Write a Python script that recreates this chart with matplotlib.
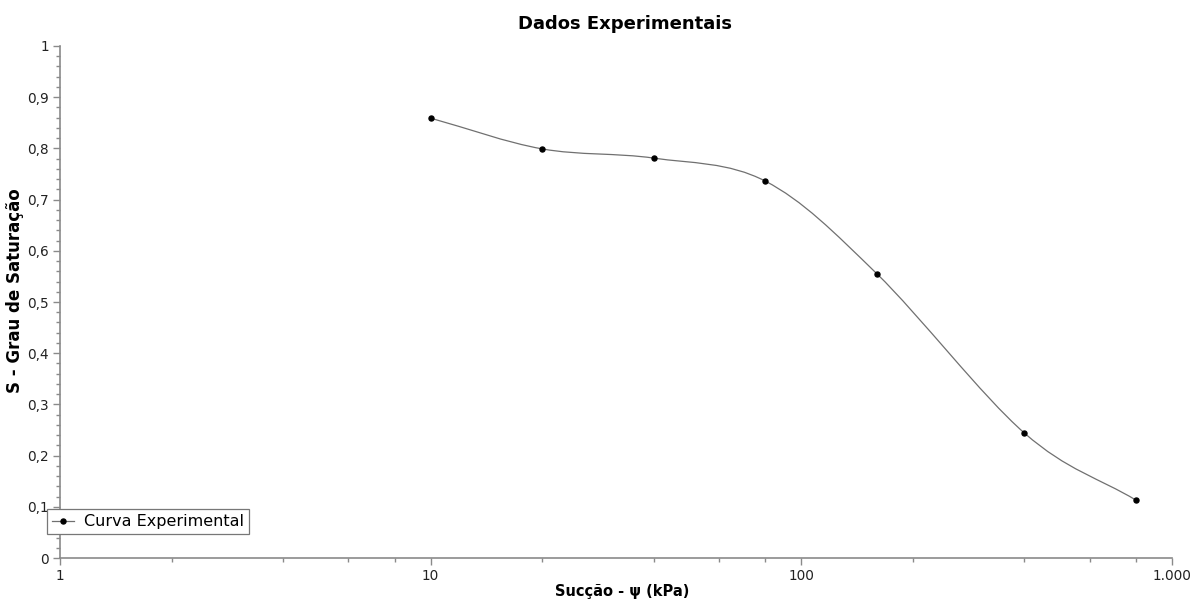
import numpy as np
import matplotlib.pyplot as plt
from matplotlib.path import Path
from matplotlib.patches import PathPatch
from matplotlib.ticker import FixedLocator, FuncFormatter, MultipleLocator
from matplotlib.lines import Line2D

# Curva experimental: sucção (kPa) x grau de saturação
succao = [10, 20, 40, 80, 160, 400, 800]
saturacao = [0.859, 0.799, 0.781, 0.736, 0.555, 0.244, 0.113]

cor_linha = '#707070'
cor_eixo = '#8a8a8a'

fig = plt.figure(figsize=(11.91, 6.01), dpi=100)
ax = fig.add_axes([0.0504, 0.0715, 0.9336, 0.852])
ax.set_xscale('log')
ax.set_xlim(1, 1000)
ax.set_ylim(0, 1)

# curva suave (Catmull-Rom em log10) desenhada como bezier
lx = np.log10(succao)
ys = np.array(saturacao)
pts = np.column_stack([lx, ys])
ext = np.vstack([2 * pts[0] - pts[1], pts, 2 * pts[-1] - pts[-2]])
verts = [pts[0]]
codes = [Path.MOVETO]
for i in range(1, len(ext) - 2):
    p0, p1, p2, p3 = ext[i - 1], ext[i], ext[i + 1], ext[i + 2]
    c1 = p1 + (p2 - p0) / 6
    c2 = p2 - (p3 - p1) / 6
    verts += [c1, c2, p2]
    codes += [Path.CURVE4] * 3
verts = np.array(verts)
verts[:, 0] = 10 ** verts[:, 0]
curva = PathPatch(Path(verts, codes), fill=False, edgecolor=cor_linha, linewidth=0.9)
ax.add_patch(curva)
ax.plot(succao, saturacao, linestyle='none', marker='o', markersize=3.6, color='black')

# eixos
for lado in ['top', 'right']:
    ax.spines[lado].set_visible(False)
for lado in ['left', 'bottom']:
    ax.spines[lado].set_color(cor_eixo)
    ax.spines[lado].set_linewidth(1.2)

ax.xaxis.set_major_locator(FixedLocator([1, 10, 100, 1000]))
ax.xaxis.set_minor_locator(FixedLocator([d * m for d in [1, 10, 100] for m in [2, 4, 6, 8]]))
ax.xaxis.set_major_formatter(FuncFormatter(lambda v, p: f'{int(round(v)):,}'.replace(',', '.')))
ax.xaxis.set_minor_formatter(FuncFormatter(lambda v, p: ''))
ax.yaxis.set_major_locator(MultipleLocator(0.1))
ax.yaxis.set_minor_locator(MultipleLocator(0.02))
ax.yaxis.set_major_formatter(FuncFormatter(lambda v, p: ('%g' % round(v, 1)).replace('.', ',')))

ax.tick_params(which='both', direction='out', color=cor_eixo, labelsize=9.8,
               labelcolor='#222222', pad=3)
ax.tick_params(which='major', length=5, width=1)
ax.tick_params(which='minor', length=3, width=1)

ax.set_title('Dados Experimentais', fontsize=13, fontweight='bold', x=0.508, pad=12)
ax.set_xlabel('Sucção - ψ (kPa)', fontsize=10.5, fontweight='bold')
ax.xaxis.set_label_coords(0.506, -0.05)
ax.set_ylabel('S - Grau de Saturação', fontsize=12, fontweight='bold')
ax.yaxis.set_label_coords(-0.032, 0.523)

# legenda
item = Line2D([], [], color=cor_linha, linewidth=0.9, marker='o', markersize=3.6,
              markerfacecolor='black', markeredgecolor='black')
leg = ax.legend([item], ['Curva Experimental'], loc='lower left', bbox_to_anchor=(-0.0117, 0.047),
                borderaxespad=0, fontsize=11.5, fancybox=False, framealpha=1, handlelength=1.4,
                borderpad=0.3, handletextpad=0.6)
leg.get_frame().set_edgecolor('#777777')
leg.get_frame().set_linewidth(0.9)

fig.savefig('out.png', dpi=100)
